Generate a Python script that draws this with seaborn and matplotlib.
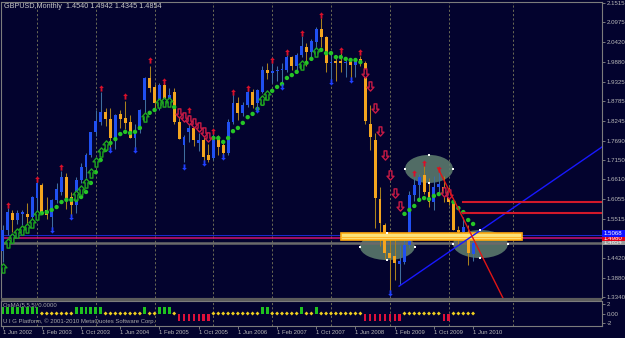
import numpy as np
import pandas as pd
import matplotlib
matplotlib.use("Agg")
import matplotlib.pyplot as plt
import seaborn as sns
from matplotlib.patches import Ellipse, Rectangle
from matplotlib.path import Path

# ------------------------------------------------------------------ data
# monthly GBPUSD candles, Jun 2002 .. Jun 2010 (index 0 .. 96)
opens = [1.463, 1.520, 1.568, 1.548, 1.566, 1.566, 1.555, 1.610, 1.645, 1.576,
         1.556, 1.604, 1.626, 1.668, 1.612, 1.590, 1.659, 1.695, 1.729, 1.793,
         1.821, 1.848, 1.829, 1.770, 1.843, 1.832, 1.820, 1.776, 1.798, 1.882,
         1.943, 1.918, 1.860, 1.923, 1.873, 1.904, 1.820, 1.757, 1.793, 1.804,
         1.762, 1.770, 1.729, 1.720, 1.779, 1.757, 1.734, 1.820, 1.874, 1.846,
         1.868, 1.904, 1.874, 1.904, 1.965, 1.957, 1.962, 1.965, 1.965, 2.001,
         1.976, 2.007, 2.029, 2.015, 2.043, 2.079, 2.057, 1.985, 1.990, 1.990,
         1.985, 1.987, 1.978, 1.995, 1.985, 1.815, 1.770, 1.606, 1.534, 1.456,
         1.448, 1.426, 1.431, 1.478, 1.618, 1.645, 1.673, 1.626, 1.598, 1.640,
         1.640, 1.612, 1.598, 1.520, 1.515, 1.512, 1.4540]
highs = [1.535, 1.582, 1.576, 1.576, 1.576, 1.595, 1.615, 1.652, 1.652, 1.612,
         1.606, 1.651, 1.685, 1.680, 1.627, 1.668, 1.706, 1.735, 1.793, 1.853,
         1.905, 1.860, 1.859, 1.842, 1.855, 1.880, 1.840, 1.815, 1.856, 1.945,
         1.975, 1.925, 1.928, 1.930, 1.915, 1.915, 1.840, 1.785, 1.840, 1.830,
         1.790, 1.780, 1.760, 1.788, 1.785, 1.765, 1.828, 1.900, 1.890, 1.875,
         1.910, 1.912, 1.912, 1.975, 1.985, 1.985, 1.975, 1.985, 2.008, 2.005,
         2.012, 2.060, 2.040, 2.050, 2.085, 2.110, 2.060, 2.015, 2.000, 2.012,
         2.000, 1.995, 1.998, 2.005, 1.990, 1.868, 1.790, 1.640, 1.540, 1.508,
         1.500, 1.478, 1.500, 1.628, 1.665, 1.675, 1.700, 1.665, 1.670, 1.685,
         1.670, 1.641, 1.610, 1.532, 1.555, 1.535, 1.4942]
lows = [1.430, 1.506, 1.515, 1.537, 1.535, 1.537, 1.545, 1.567, 1.565, 1.552,
        1.526, 1.596, 1.618, 1.578, 1.562, 1.567, 1.650, 1.665, 1.724, 1.781,
        1.812, 1.810, 1.748, 1.745, 1.805, 1.800, 1.775, 1.748, 1.790, 1.845,
        1.905, 1.860, 1.855, 1.870, 1.865, 1.815, 1.772, 1.710, 1.765, 1.755,
        1.740, 1.712, 1.710, 1.715, 1.730, 1.728, 1.730, 1.815, 1.825, 1.836,
        1.862, 1.860, 1.860, 1.900, 1.940, 1.930, 1.935, 1.925, 1.960, 1.965,
        1.965, 2.000, 1.975, 2.000, 2.025, 2.030, 1.960, 1.937, 1.935, 1.960,
        1.945, 1.940, 1.945, 1.975, 1.815, 1.743, 1.526, 1.475, 1.440, 1.350,
        1.380, 1.366, 1.425, 1.470, 1.600, 1.605, 1.620, 1.585, 1.575, 1.620,
        1.598, 1.590, 1.520, 1.478, 1.505, 1.423, 1.4345]
closes = [1.520, 1.570, 1.548, 1.567, 1.568, 1.555, 1.612, 1.651, 1.570, 1.562,
          1.604, 1.634, 1.668, 1.609, 1.590, 1.659, 1.695, 1.729, 1.793, 1.823,
          1.848, 1.829, 1.776, 1.840, 1.829, 1.818, 1.776, 1.798, 1.854, 1.943,
          1.915, 1.873, 1.923, 1.882, 1.896, 1.820, 1.773, 1.779, 1.804, 1.770,
          1.770, 1.723, 1.715, 1.770, 1.751, 1.734, 1.820, 1.874, 1.846, 1.868,
          1.904, 1.868, 1.910, 1.965, 1.957, 1.962, 1.965, 1.968, 2.001, 1.976,
          2.007, 2.032, 2.015, 2.046, 2.079, 2.057, 1.985, 1.988, 1.985, 1.985,
          1.988, 1.979, 1.992, 1.985, 1.823, 1.779, 1.609, 1.540, 1.456, 1.442,
          1.429, 1.434, 1.478, 1.618, 1.645, 1.668, 1.626, 1.598, 1.640, 1.648,
          1.618, 1.598, 1.520, 1.515, 1.529, 1.456, 1.4854]

nan = np.nan
ma_dots = [nan, nan, nan, nan, nan, nan, nan, nan,
           1.567, 1.570, 1.576, 1.584, 1.598, 1.604, 1.604, 1.604, 1.612, 1.626,
           1.651, 1.681, 1.715, 1.743, 1.762, 1.773, 1.787, 1.793, 1.790, 1.793,
           1.804, 1.829, 1.846, 1.854, 1.868, 1.873, 1.876, 1.862,
           nan, nan, nan, nan, nan, nan, nan,
           1.776, 1.776, 1.765, 1.776, 1.795, 1.804, 1.818, 1.834, 1.843, 1.857,
           1.871, 1.887, 1.907, 1.918, 1.926, 1.943, 1.951, 1.960, 1.973, 1.985,
           1.996, 2.012, 2.021, 2.012, 2.012, 2.001, 2.001, 1.996, 1.993, 1.993,
           1.987,
           nan, nan, nan, nan, nan, nan, nan, nan,
           1.565, 1.576, 1.587, 1.604, 1.609, 1.606, 1.615, 1.620, 1.623, 1.623,
           1.598, 1.581, 1.570, 1.548, 1.537]

buy_m = [0, 1, 2, 3, 4, 5, 6, 7, 15, 16, 17, 18, 19, 20, 21, 29, 32, 33, 34, 53, 54, 61, 64]
buy_p = [1.414, 1.484, 1.498, 1.512, 1.520, 1.527, 1.540, 1.563, 1.617, 1.631, 1.651,
         1.679, 1.709, 1.737, 1.757, 1.834, 1.873, 1.876, 1.876, 1.882, 1.896, 1.979, 2.015]
sell_m = [36, 37, 38, 39, 40, 41, 42, 74, 75, 76, 77, 78, 79, 80, 81, 90, 91]
sell_p = [1.846, 1.835, 1.826, 1.818, 1.807, 1.793, 1.779, 1.957, 1.921, 1.860,
          1.796, 1.729, 1.673, 1.623, 1.587, 1.626, 1.620]

frac_up_m = [1, 7, 12, 20, 25, 30, 33, 38, 43, 47, 50, 55, 58, 61, 65, 69, 73, 84, 86, 89]
frac_up_p = [1.590, 1.662, 1.695, 1.915, 1.893, 1.993, 1.935, 1.854, 1.795, 1.904,
             1.915, 1.993, 2.015, 2.068, 2.118, 2.021, 2.015, 1.679, 1.706, 1.690]
frac_dn_m = [10, 14, 22, 27, 37, 41, 45, 52, 57, 67, 71, 79]
frac_dn_p = [1.520, 1.556, 1.743, 1.743, 1.695, 1.706, 1.723, 1.854, 1.918, 1.932, 1.937, 1.344]

osma = [1.45, 1.45, 1.45, 1.45, 1.45, 1.45, 1.45, 1.45,
        0, 0, 0, 0, 0, 0, 0,
        1.45, 1.45, 1.45, 1.45, 1.45, 1.45,
        0, 0, 0, 0, 0, 0, 0, 0,
        1.45, 0, 0, 1.45, 1.45, 1.45, 0,
        -1.65, -1.65, -1.65, -1.65, -1.65, -1.65, -1.65,
        0, 0, 0, 0, 0, 0, 0, 0, 0, 0,
        1.45, 1.45, 0, 0, 0, 0, 0, 0, 1.45, 0, 0, 1.45,
        0, 0, 0, 0, 0, 0, 0, 0, 0,
        -1.65, -1.65, -1.65, -1.65, -1.65, -1.65, -1.65, -1.65,
        0, 0, 0, 0, 0, 0, 0, 0,
        -1.65, -1.65,
        0, 0, 0, 0, 0]

price_ticks = [2.1515, 2.0975, 2.0420, 1.9880, 1.9325, 1.8785, 1.8245, 1.7690,
               1.7150, 1.6610, 1.6055, 1.5515, 1.4420, 1.3880, 1.3340]
date_tick_m = [0, 8, 16, 24, 32, 40, 48, 56, 64, 72, 80, 88, 96]
date_labels = ["1 Jun 2002", "1 Feb 2003", "1 Oct 2003", "1 Jun 2004", "1 Feb 2005",
               "1 Oct 2005", "1 Jun 2006", "1 Feb 2007", "1 Oct 2007", "1 Jun 2008",
               "1 Feb 2009", "1 Oct 2009", "1 Jun 2010"]
grid_m = [7, 19, 31, 43, 55, 67, 79, 91, 104.1]

level_blue, level_magenta, level_bid = 1.5068, 1.4980, 1.4854
res_levels = [1.599, 1.568]
zone = (69.0, 106.0, 1.4924, 1.5118)          # x0, x1, p0, p1
trend_up = [(80.9, 1.364), (122.3, 1.751)]
trend_dn = [(88.8, 1.693), (102.1, 1.331)]
ellipses = [(87.0, 1.690, 9.8, 0.078), (78.5, 1.474, 11.2, 0.075), (97.5, 1.481, 11.2, 0.078)]

title = "GBPUSD,Monthly  1.4540 1.4942 1.4345 1.4854"

# ------------------------------------------------------------------ style
BG = "#03032e"
W, H = 625, 338
plt.rcParams['font.family'] = ['Liberation Sans', 'DejaVu Sans']

def fr(x0, y0, x1, y1):
    return [x0 / W, 1 - y1 / H, (x1 - x0) / W, (y1 - y0) / H]

fig = plt.figure(figsize=(6.25, 3.38), dpi=100, facecolor=BG)
ax = fig.add_axes(fr(1, 2, 602, 298))
axi = fig.add_axes(fr(1, 301, 602, 326))
for a in (ax, axi):
    a.set_facecolor(BG)
    for s in a.spines.values():
        s.set_color("#7c7c7c")
        s.set_linewidth(0.8)

m = np.arange(len(opens))
o = np.array(opens); c = np.array(closes)
hi = np.array(highs); lo = np.array(lows)
bull = c >= o

# grid
for g in grid_m:
    for a in (ax, axi):
        a.axvline(g, color="#6a6a55", lw=0.7, ls=(0, (2.2, 2.2)), zorder=0.5)

# ellipses (background objects)
for (ex, ey, ew, eh) in ellipses:
    ax.add_patch(Ellipse((ex, ey), ew, eh, facecolor="#5f7f70", edgecolor="none",
                         alpha=0.85, zorder=1))

# horizontal levels
ax.axhline(level_blue, color="#1a2ad0", lw=0.7, zorder=1.2)
ax.axhline(level_bid, color="#6a6a6a", lw=1.8, zorder=1.2)
ax.axhline(level_magenta, color="#d0126e", lw=1.1, zorder=1.3)

# candles
wick_cols = np.where(bull, "#3f6e9e", "#a8801e")
ax.vlines(m, lo, hi, colors=wick_cols, lw=0.75, zorder=2)
heights = np.maximum(np.abs(c - o), 0.003)
bottoms = np.minimum(o, c)
body_cols = np.where(bull, "#2050f2", "#f4a51f")
ax.bar(m, heights, bottom=bottoms, width=0.6, color=body_cols, linewidth=0, zorder=3)

# moving average dots
sns.scatterplot(x=m, y=ma_dots, ax=ax, color="#26c526", s=10, edgecolor="none", zorder=3.5)

# arrows
up_arrow = Path([(0, 1), (-0.75, 0.15), (-0.3, 0.15), (-0.3, -1), (0.3, -1), (0.3, 0.15),
                 (0.75, 0.15), (0, 1)],
                [Path.MOVETO] + [Path.LINETO] * 6 + [Path.CLOSEPOLY])
dn_arrow = Path([(x, -y) for x, y in up_arrow.vertices], up_arrow.codes)
ax.scatter(buy_m, buy_p, marker=up_arrow, s=44, facecolor=BG, edgecolor="#1fa51f",
           linewidths=1.0, zorder=4)
ax.scatter(sell_m, sell_p, marker=dn_arrow, s=44, facecolor=BG, edgecolor="#c81a45",
           linewidths=1.0, zorder=4)
ax.scatter(frac_up_m, frac_up_p, marker=up_arrow, s=20, color="#d8102a", linewidths=0, zorder=4)
ax.scatter(frac_dn_m, frac_dn_p, marker=dn_arrow, s=20, color="#2040ff", linewidths=0, zorder=4)

# zone rectangle
zx0, zx1, zp0, zp1 = zone
ax.add_patch(Rectangle((zx0, zp0), zx1 - zx0, zp1 - zp0, facecolor="#fbe27a",
                       edgecolor="#ffa90f", lw=1.2, zorder=5))
ax.plot([zx0, zx1], [(zp0 + zp1) / 2] * 2, color="#ffb52a", lw=0.8, zorder=5.1)

# trend lines & resistance
ax.plot([p[0] for p in trend_up], [p[1] for p in trend_up], color="#1818ff", lw=1.0, zorder=5.5)
ax.plot([p[0] for p in trend_dn], [p[1] for p in trend_dn], color="#e01515", lw=1.0, zorder=5.5)
for r in res_levels:
    ax.plot([94, 125], [r, r], color="#d2182a", lw=1.5, zorder=5.5)

# ellipse handles
for (ex, ey, ew, eh) in ellipses:
    ax.scatter([ex - ew / 2, ex + ew / 2, ex, ex], [ey, ey, ey + eh / 2, ey - eh / 2],
               marker="s", s=3, color="white", linewidths=0, zorder=6)

ax.set_xlim(-0.347, 122.31)
ax.set_ylim(1.3311, 2.1542)
ax.set_xlabel(""); ax.set_ylabel("")
ax.yaxis.tick_right()
ax.set_yticks(price_ticks)
ax.set_yticklabels([f"{p:.4f}" for p in price_ticks])
ax.tick_params(axis="y", length=2, width=0.6, color="#8a8a8a", pad=1.5,
               labelsize=4.4, labelcolor="#b8b8b8")
ax.tick_params(axis="x", bottom=False, labelbottom=False)

# indicator panel
osma_a = np.array(osma)
pos = osma_a > 0; neg = osma_a < 0; zer = osma_a == 0
axi.bar(m[pos], osma_a[pos], width=0.6, color="#1fc21f", linewidth=0, zorder=2)
axi.bar(m[neg], osma_a[neg], width=0.45, color="#e0103a", linewidth=0, zorder=2)
sns.scatterplot(x=m[zer], y=osma_a[zer], ax=axi, marker="D", s=4, color="#f0d020",
                edgecolor="none", zorder=3)
axi.set_xlim(-0.347, 122.31)
axi.set_ylim(-2.63, 2.63)
axi.set_xlabel(""); axi.set_ylabel("")
axi.yaxis.tick_right()
axi.set_yticks([2, 0, -2])
axi.set_yticklabels(["2", "0.00", "-2"])
axi.tick_params(axis="y", length=2, width=0.6, color="#8a8a8a", pad=1.5,
                labelsize=4.4, labelcolor="#b8b8b8")
axi.set_xticks(date_tick_m)
axi.set_xticklabels(date_labels)
for lab in axi.get_xticklabels():
    lab.set_ha("left")
axi.tick_params(axis="x", length=2, width=0.6, color="#8a8a8a", pad=1.2,
                labelsize=4.2, labelcolor="#b8b8b8")

# separator between panels
fig.add_artist(Rectangle((1 / W, 1 - 301 / H), 601 / W, 3 / H, transform=fig.transFigure,
                         facecolor="#5c5c5c", edgecolor="none"))

# texts
fig.text(4 / W, 1 - 7 / H, title, fontsize=5.2, color="#c8c8c8", va="center", ha="left")
fig.text(3 / W, 1 - 305 / H, "OsMA(5,5,5) 0.0000", fontsize=4.3, color="#a8a8a8",
         va="center", ha="left")
fig.text(3 / W, 1 - 321.5 / H, "U I G Platform, \u00a9 2001-2010 MetaQuotes Software Corp.",
         fontsize=4.3, color="#a8a8a8", va="center", ha="left")

# price tags on the right scale
tags = [("1.5068", "#1010ff", "white", 230, 237.3),
        ("1.4980", "#e00018", "white", 237.3, 240.7),
        ("1.4854", "#9a9a9a", "#f0f0f0", 240.7, 245.3)]
for txt, bc, tc, y0, y1 in tags:
    r = Rectangle((602 / W, 1 - y1 / H), 23 / W, (y1 - y0) / H, transform=fig.transFigure,
                  facecolor=bc, edgecolor="none")
    fig.add_artist(r)
    t = fig.text(604 / W, 1 - (y0 + y1) / 2 / H, txt, fontsize=4.4, color=tc,
                 va="center", ha="left")
    t.set_clip_path(r)

fig.savefig("out.png", dpi=100, facecolor=BG)
